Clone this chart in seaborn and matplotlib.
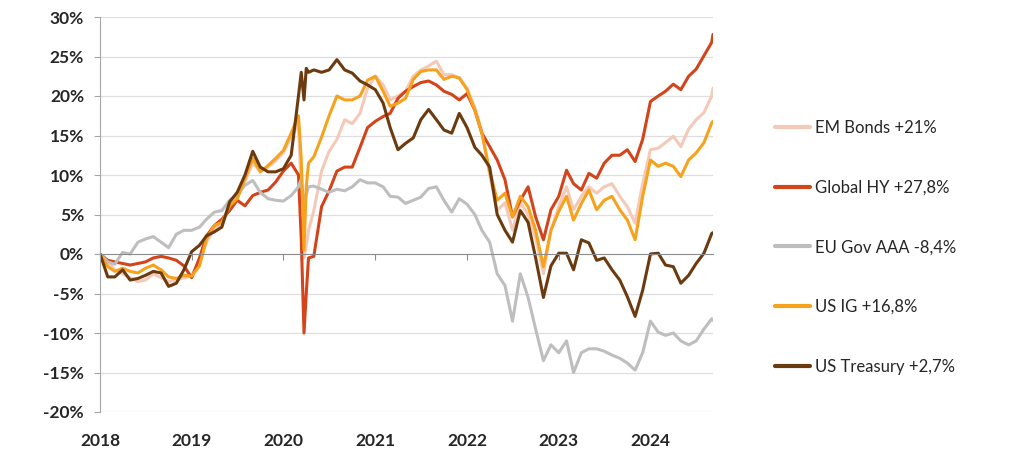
import pandas as pd
import matplotlib
matplotlib.use("Agg")
import matplotlib.pyplot as plt
import matplotlib.dates as mdates
import seaborn as sns
from matplotlib.ticker import FuncFormatter

# ------------------------
# Data (cumulative return in %)
# ------------------------
monthly = pd.date_range("2018-01-01", "2024-09-01", freq="MS")
extra = pd.to_datetime(["2020-03-12", "2020-03-23", "2020-04-10", "2024-09-06"])
dates = monthly.append(extra).sort_values()

# 2020 rows: Jan, Feb, Mar1, Mar12, Mar23, Apr1, Apr10, May..Dec
# 2024 rows: Jan..Sep, Sep6
em_bonds = (
    [0, -1.0, -2.0, -2.5, -3.0, -3.5, -3.3, -2.5, -3.0, -3.5, -3.3, -3.0]
    + [-2.8, -1.0, 1.5, 3.2, 3.8, 5.8, 7.0, 9.2, 11.5, 10.5, 11.0, 11.8]
    + [12.8, 14.8, 16.5, 8.0, -0.5, 1.0, 3.0, 5.5, 10.5, 13.0, 14.5, 17.0, 16.5, 17.8, 21.0]
    + [22.5, 21.4, 19.5, 20.0, 20.6, 22.5, 23.3, 23.8, 24.4, 22.7, 22.7, 22.3]
    + [21.0, 18.5, 15.5, 10.0, 5.5, 6.5, 3.0, 6.5, 5.0, 2.0, -2.5, 3.0]
    + [6.0, 8.5, 5.6, 7.3, 8.5, 7.7, 8.5, 8.9, 7.3, 6.0, 3.9, 8.9]
    + [13.2, 13.4, 14.1, 14.9, 13.6, 15.8, 17.0, 17.9, 20.0, 21.0]
)
global_hy = (
    [0, -0.8, -1.0, -1.2, -1.4, -1.2, -1.0, -0.5, -0.3, -0.5, -0.8, -1.5]
    + [-3.0, -0.5, 2.3, 3.6, 4.4, 5.5, 6.8, 6.1, 7.4, 7.8, 8.1, 9.1]
    + [10.5, 11.5, 10.0, 2.0, -10.0, -5.0, -0.5, -0.3, 6.0, 8.0, 10.5, 11.0, 11.0, 13.5, 16.0]
    + [16.8, 17.4, 17.8, 19.7, 20.6, 21.2, 21.7, 21.9, 21.4, 20.6, 20.2, 19.5]
    + [20.3, 18.2, 15.3, 13.6, 11.9, 9.4, 4.7, 6.8, 8.5, 4.7, 1.8, 5.6]
    + [7.3, 10.6, 8.9, 8.1, 10.2, 9.6, 11.5, 12.5, 12.5, 13.2, 11.7, 14.5]
    + [19.3, 20.0, 20.6, 21.5, 20.8, 22.5, 23.4, 25.1, 26.8, 27.8]
)
eu_gov = (
    [0, -1.0, -1.3, 0.2, 0.0, 1.5, 1.9, 2.2, 1.5, 0.8, 2.5, 3.0]
    + [3.0, 3.4, 4.4, 5.3, 5.5, 6.8, 7.5, 8.7, 9.3, 7.8, 7.0, 6.8]
    + [6.7, 7.4, 8.5, 9.5, 6.5, 7.5, 8.5, 8.6, 8.2, 7.8, 8.2, 8.0, 8.5, 9.4, 9.0]
    + [9.0, 8.5, 7.3, 7.2, 6.4, 6.8, 7.2, 8.3, 8.5, 6.8, 5.3, 7.0]
    + [6.3, 5.0, 3.0, 1.5, -2.5, -4.0, -8.5, -2.5, -5.5, -9.5, -13.5, -11.5]
    + [-12.5, -11.0, -15.0, -12.5, -12.0, -12.0, -12.3, -12.8, -13.2, -13.8, -14.7, -12.5]
    + [-8.5, -9.9, -10.3, -10.0, -11.0, -11.5, -11.0, -9.5, -8.2, -8.4]
)
us_ig = (
    [0, -1.6, -2.2, -1.8, -2.2, -2.4, -1.8, -1.4, -2.0, -2.9, -3.1, -2.7]
    + [-2.8, -1.5, 1.9, 3.6, 4.0, 6.1, 7.0, 9.5, 12.1, 10.4, 11.2, 12.1]
    + [13.1, 15.3, 17.5, 12.0, 0.5, 8.5, 11.5, 12.3, 14.8, 17.5, 20.0, 19.5, 19.5, 20.0, 22.0]
    + [22.5, 20.6, 18.7, 19.1, 19.7, 22.1, 23.1, 23.3, 23.3, 22.1, 22.5, 22.3]
    + [20.8, 18.2, 15.3, 10.5, 6.8, 7.7, 4.7, 7.3, 6.0, 3.0, -1.6, 3.0]
    + [5.4, 7.3, 4.3, 6.4, 8.1, 5.6, 6.8, 7.3, 5.6, 4.3, 1.8, 7.3]
    + [11.9, 11.1, 11.5, 11.1, 9.8, 11.9, 12.8, 14.1, 16.6, 16.8]
)
us_treasury = (
    [0, -2.9, -2.9, -2.0, -3.3, -3.1, -2.7, -2.2, -2.4, -4.1, -3.7, -2.0]
    + [0.3, 1.1, 2.3, 2.8, 3.4, 6.6, 7.8, 10.0, 13.0, 11.0, 10.4, 10.4]
    + [10.8, 12.5, 20.0, 23.0, 19.5, 23.5, 23.0, 23.3, 23.0, 23.3, 24.6, 23.3, 22.9, 21.9, 21.4]
    + [20.8, 19.1, 16.0, 13.2, 14.0, 14.7, 17.0, 18.3, 17.0, 15.7, 15.3, 17.8]
    + [16.0, 13.5, 12.5, 11.0, 5.0, 3.0, 1.5, 5.5, 4.0, -0.5, -5.5, -1.5]
    + [0.1, 0.1, -2.0, 1.8, 1.4, -0.8, -0.5, -2.0, -3.3, -5.4, -7.9, -4.6]
    + [0.0, 0.1, -1.4, -1.6, -3.7, -2.7, -1.2, 0.1, 2.6, 2.7]
)

labels = ["EM Bonds +21%", "Global HY +27,8%", "EU Gov AAA -8,4%", "US IG +16,8%", "US Treasury +2,7%"]
colors = ["#F5C9B8", "#D4441A", "#BEBEBE", "#F6A21C", "#6B3A0E"]
y_ticks = list(range(-20, 31, 5))

df = pd.DataFrame({
    "date": dates,
    labels[0]: em_bonds,
    labels[1]: global_hy,
    labels[2]: eu_gov,
    labels[3]: us_ig,
    labels[4]: us_treasury,
})
long_df = df.melt(id_vars="date", var_name="series", value_name="value")

# ------------------------
# Plot
# ------------------------
sns.set_style("white")
plt.rcParams["font.family"] = ["Lato", "DejaVu Sans"]

fig = plt.figure(figsize=(10.24, 4.67), dpi=100)
ax = fig.add_axes([100 / 1024, 1 - 412 / 467, 613 / 1024, 395 / 467])

# light horizontal grid
for y in y_ticks:
    if y != 0:
        ax.axhline(y, color="#DEDEDE", lw=0.9, zorder=0)

sns.lineplot(data=long_df, x="date", y="value", hue="series", hue_order=labels,
             palette=dict(zip(labels, colors)), linewidth=2.2, estimator=None, ax=ax)

ax.set_ylim(-20, 30)
ax.set_xlim(dates[0], dates[-1])
ax.set_yticks(y_ticks)
ax.yaxis.set_major_formatter(FuncFormatter(lambda v, _: f"{v:.0f}%"))
ax.set_xlabel("")
ax.set_ylabel("")

for s in ["top", "right"]:
    ax.spines[s].set_visible(False)
ax.spines["left"].set_color("#A6A6A6")
ax.spines["bottom"].set_position(("data", 0))
ax.spines["bottom"].set_color("#8C8C8C")
ax.tick_params(axis="y", direction="out", length=4.5, color="#A6A6A6", pad=7,
               labelsize=12.5, left=True)
ax.xaxis.set_major_locator(mdates.YearLocator())
ax.tick_params(axis="x", direction="out", length=4, color="#8C8C8C", labelbottom=False, bottom=True)
for t in ax.get_yticklabels():
    t.set_fontweight("bold")

# year labels under the plot area
secax = ax.secondary_xaxis("bottom")
secax.xaxis.set_major_locator(mdates.YearLocator())
secax.xaxis.set_major_formatter(mdates.DateFormatter("%Y"))
secax.tick_params(length=0, pad=15, labelsize=12.5)
secax.spines["bottom"].set_visible(False)
for t in secax.get_xticklabels():
    t.set_fontweight("bold")

handles, hlabels = ax.get_legend_handles_labels()
for h in handles:
    h.set_linewidth(3)
ax.legend(handles, hlabels, loc="upper left", bbox_to_anchor=(775 / 1024, 1 - 120 / 467),
          bbox_transform=fig.transFigure, frameon=False, fontsize=12,
          handlelength=2.1, handletextpad=0.3, labelspacing=2.62,
          borderpad=0, borderaxespad=0)

fig.savefig("out.png", dpi=100)
